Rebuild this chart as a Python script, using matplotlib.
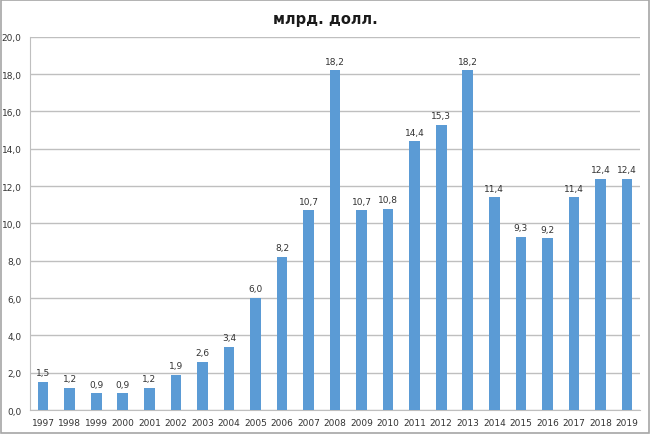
import matplotlib.pyplot as plt
from matplotlib.patches import Rectangle

years = [str(y) for y in range(1997, 2020)]
values = [1.5, 1.2, 0.9, 0.9, 1.2, 1.9, 2.6, 3.4, 6.0, 8.2, 10.7, 18.2,
          10.7, 10.8, 14.4, 15.3, 18.2, 11.4, 9.3, 9.2, 11.4, 12.4, 12.4]
yticks = [0, 2, 4, 6, 8, 10, 12, 14, 16, 18, 20]

plt.rcParams['font.family'] = ['DejaVu Sans']

fig = plt.figure(figsize=(6.5, 4.35), dpi=100)
ax = fig.add_axes([0.046, 0.055, 0.939, 0.858])

x = range(len(years))
ax.bar(x, values, width=0.4, color='#5B9BD5', zorder=3)
for i, v in zip(x, values):
    ax.text(i, v + 0.25, f"{v:.1f}".replace('.', ','), ha='center', va='bottom',
            fontsize=6.5, color='#333333')

ax.set_xlim(-0.5, len(years) - 0.5)
ax.set_ylim(0, 20)
ax.set_yticks(yticks)
ax.set_yticklabels([f"{t:.1f}".replace('.', ',') for t in yticks], fontsize=6.5, color='#333333')
ax.set_xticks(list(x))
ax.set_xticklabels(years, fontsize=6.5, color='#333333')
ax.tick_params(axis='y', length=0, pad=6)
ax.tick_params(axis='x', length=0, pad=6)

ax.grid(axis='y', color='#BFBFBF', linewidth=1, zorder=0)
for s in ['top', 'right']:
    ax.spines[s].set_visible(False)
ax.spines['left'].set_color('#BFBFBF')
ax.spines['bottom'].set_color('#BFBFBF')

fig.text(0.5, 0.955, 'млрд. долл.', ha='center', va='center', fontsize=10.5,
         fontweight='bold', color='#1a1a1a')

fig.patches.append(Rectangle((0.002, 0.003), 0.996, 0.994, transform=fig.transFigure,
                             fill=False, edgecolor='#A6A6A6', linewidth=1.2))

fig.savefig('out.png', dpi=100)
